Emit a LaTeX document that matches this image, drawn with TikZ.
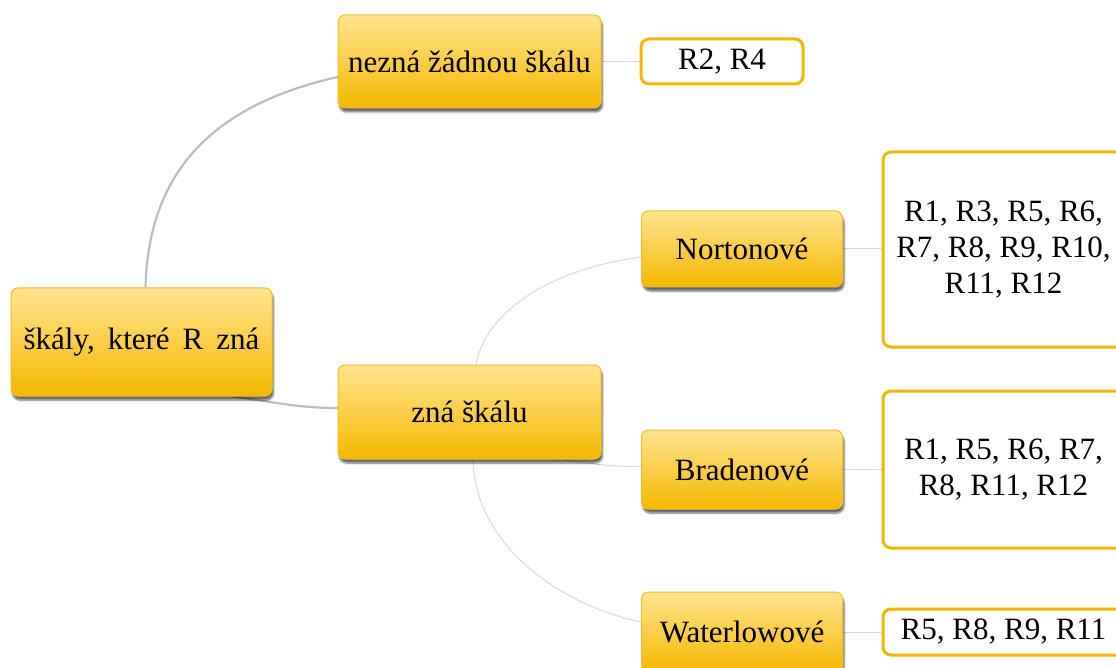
\documentclass[tikz,border=0pt]{standalone}
\usepackage{fontspec}
\setmainfont{Liberation Serif}
\usetikzlibrary{shadows.blur}
\definecolor{boxtop}{HTML}{FFE48F}
\definecolor{boxbot}{HTML}{F5B800}
\definecolor{boxline}{HTML}{F2BE22}
\definecolor{leafline}{HTML}{F5B800}
\definecolor{linkdark}{HTML}{BDBDBD}
\definecolor{linklight}{HTML}{DADADA}
\pgfdeclarelayer{bg}
\pgfsetlayers{bg,main}
\tikzset{
  topic/.style={rectangle, rounded corners=7pt, top color=boxtop, bottom color=boxbot,
    draw=boxline, line width=1pt, inner sep=0pt, align=center,
    font=\fontsize{31}{36}\selectfont,
    blur shadow={shadow xshift=1.5pt, shadow yshift=-4pt, shadow blur steps=6, shadow opacity=60}},
  leaf/.style={rectangle, rounded corners=8pt, fill=white, draw=leafline, line width=3pt,
    inner sep=0pt, align=center, font=\fontsize{31}{36}\selectfont},
  mainlink/.style={draw=linkdark, line width=2.2pt},
  sublink/.style={draw=linklight, line width=1pt},
}
\begin{document}
\begin{tikzpicture}[x=1pt,y=-1pt]
\useasboundingbox (0,0) rectangle (1116,668);

% topics
\node[topic, minimum width=261pt, minimum height=108pt] (root) at (141.5,342)
  {\spaceskip=13pt škály, které R zná};
\node[topic, minimum width=263pt, minimum height=93pt] (nezna) at (469.5,61.5) {nezná žádnou škálu};
\node[topic, minimum width=263pt, minimum height=94pt] (zna) at (469.5,412) {zná škálu};
\node[topic, minimum width=201pt, minimum height=76pt] (norton) at (742,249) {Nortonové};
\node[topic, minimum width=201pt, minimum height=79pt] (braden) at (742,469.5) {Bradenové};
\node[topic, minimum width=201pt, minimum height=80pt] (waterlow) at (742,632) {Waterlowové};

% respondent lists
\node[leaf, minimum width=162pt, minimum height=45pt] (l24) at (722,61.5) {R2, R4};
\node[leaf, minimum width=241pt, minimum height=195pt] (lnorton) at (1003.5,249.5)
  {R1, R3, R5, R6,\\R7, R8, R9, R10,\\R11, R12};
\node[leaf, minimum width=241pt, minimum height=157pt] (lbraden) at (1003.5,469.5)
  {R1, R5, R6, R7,\\R8, R11, R12};
\node[leaf, minimum width=241pt, minimum height=46pt] (lwaterlow) at (1003.5,632)
  {R5, R8, R9, R11};

% connectors behind the boxes
\begin{pgfonlayer}{bg}
  \draw[mainlink] ([xshift=4pt]root.north) .. controls +(3,-128) and +(-110,25) .. ([yshift=-15.5pt]nezna.west);
  \draw[mainlink] ([xshift=91.5pt]root.south) .. controls +(45,6) and +(-40,0) .. ([yshift=4pt]zna.west);
  \draw[sublink] ([xshift=6.5pt]zna.north) .. controls +(9,-50) and +(-96,13) .. ([yshift=-8pt]norton.west);
  \draw[sublink] ([xshift=88.5pt]zna.south) .. controls +(40,4) and +(-40,0) .. ([yshift=3pt]braden.west);
  \draw[sublink] ([xshift=3.5pt]zna.south) .. controls +(2,86) and +(-81,-17) .. ([yshift=10pt]waterlow.west);
  \draw[sublink] (nezna.east) -- (l24.west);
  \draw[sublink] (norton.east) -- (norton.east -| lnorton.west);
  \draw[sublink] (braden.east) -- (lbraden.west);
  \draw[sublink] (waterlow.east) -- (lwaterlow.west);
\end{pgfonlayer}
\end{tikzpicture}
\end{document}
